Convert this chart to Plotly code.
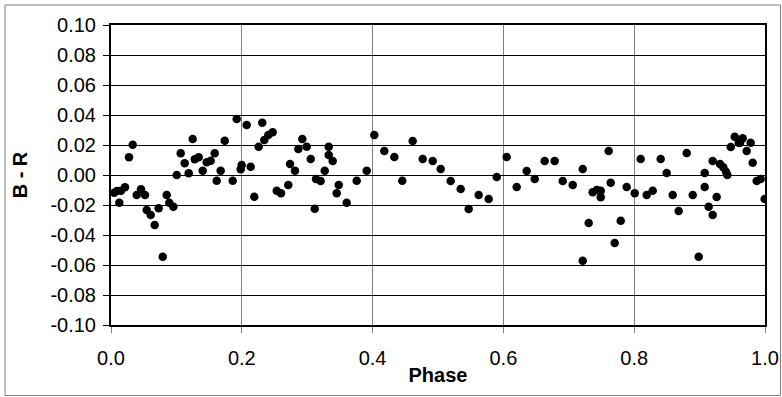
import plotly.graph_objects as go

phase = [0.005, 0.009, 0.0127, 0.0153, 0.0214, 0.0275, 0.0332, 0.0393, 0.0459, 0.052,
         0.0546, 0.0607, 0.0668, 0.0729, 0.0791, 0.0852, 0.0891, 0.0953, 0.1005, 0.1066,
         0.1127, 0.1188, 0.1249, 0.128, 0.1341, 0.1402, 0.1463, 0.1524, 0.1586, 0.1616,
         0.1677, 0.1739, 0.1861, 0.1922, 0.1983, 0.1998, 0.2075, 0.2136, 0.2191, 0.2258,
         0.2313, 0.2344, 0.2405, 0.2472, 0.2534, 0.2599, 0.2711, 0.2737, 0.2813, 0.2864,
         0.2925, 0.2992, 0.3054, 0.3115, 0.3135, 0.3206, 0.3268, 0.3329, 0.3329, 0.339,
         0.3451, 0.3482, 0.3604, 0.3757, 0.391, 0.4026, 0.4179, 0.4332, 0.4454, 0.4613,
         0.4766, 0.4919, 0.5041, 0.5194, 0.5347, 0.5469, 0.5622, 0.5775, 0.5898, 0.605,
         0.6203, 0.6356, 0.6479, 0.6631, 0.6784, 0.6907, 0.706, 0.7213, 0.7213, 0.7304,
         0.7365, 0.7427, 0.7488, 0.7488, 0.761, 0.7641, 0.7702, 0.7794, 0.7885, 0.8008,
         0.8099, 0.8191, 0.8283, 0.8405, 0.8497, 0.8589, 0.868, 0.8803, 0.8895, 0.8986,
         0.9078, 0.9078, 0.9139, 0.92, 0.92, 0.9261, 0.9312, 0.9362, 0.9404, 0.9424,
         0.9476, 0.9537, 0.9598, 0.9618, 0.9659, 0.972, 0.9781, 0.9812, 0.9873, 0.9934,
         0.9995]

b_minus_r = [-0.0118, -0.0107, -0.0185, -0.0105, -0.0082, 0.0118, 0.0202, -0.0133, -0.0095, -0.0133,
             -0.0233, -0.0267, -0.0333, -0.0222, -0.0545, -0.0133, -0.0185, -0.0211, 0.0000, 0.0145,
             0.0078, 0.0011, 0.0240, 0.0105, 0.0118, 0.0029, 0.0085, 0.0095, 0.0145, -0.0038,
             0.0029, 0.0229, -0.0038, 0.0373, 0.0038, 0.0067, 0.0333, 0.0055, -0.0145, 0.0189,
             0.0349, 0.0233, 0.0267, 0.0285, -0.0105, -0.0122, -0.0067, 0.0073, 0.0029, 0.0173,
             0.0240, 0.0189, 0.0107, -0.0225, -0.0027, -0.0040, 0.0029, 0.0189, 0.0133, 0.0093,
             -0.0122, -0.0067, -0.0185, -0.0038, 0.0029, 0.0267, 0.0160, 0.0120, -0.0038, 0.0227,
             0.0107, 0.0093, 0.0040, -0.0040, -0.0093, -0.0227, -0.0133, -0.0160, -0.0013, 0.0120,
             -0.0080, 0.0027, -0.0027, 0.0093, 0.0093, -0.0040, -0.0067, 0.0040, -0.0571, -0.0320,
             -0.0115, -0.0100, -0.0105, -0.0149, 0.0160, -0.0051, -0.0453, -0.0305, -0.0080, -0.0122,
             0.0107, -0.0133, -0.0105, 0.0107, 0.0013, -0.0133, -0.0240, 0.0147, -0.0133, -0.0545,
             0.0013, -0.0080, -0.0211, -0.0267, 0.0093, -0.0147, 0.0073, 0.0051, 0.0022, 0.0000,
             0.0187, 0.0255, 0.0215, 0.0215, 0.0245, 0.0160, 0.0215, 0.0082, -0.0040, -0.0027,
             -0.0160]

x_ticks = [0.0, 0.2, 0.4, 0.6, 0.8, 1.0]
x_tick_labels = ["0.0", "0.2", "0.4", "0.6", "0.8", "1.0"]
y_ticks = [-0.10, -0.08, -0.06, -0.04, -0.02, 0.00, 0.02, 0.04, 0.06, 0.08, 0.10]
y_tick_labels = ["-0.10", "-0.08", "-0.06", "-0.04", "-0.02", "0.00",
                 "0.02", "0.04", "0.06", "0.08", "0.10"]

FONT = "Liberation Sans, Arial, sans-serif"

W, H = 782, 397
L, R, T, B = 111, 17, 25, 72
PW, PH = W - L - R, H - T - B

fig = go.Figure()
fig.add_trace(go.Scatter(
    x=phase, y=b_minus_r, mode="markers",
    marker=dict(color="black", size=8.5, line=dict(width=0)),
    showlegend=False,
))

fig.update_layout(
    width=W, height=H, autosize=False,
    margin=dict(l=L, r=R, t=T, b=B),
    paper_bgcolor="white", plot_bgcolor="white",
    font=dict(family=FONT, size=20, color="black"),
    shapes=[dict(type="rect", xref="paper", yref="paper",
                 x0=-(L - 5) / PW, x1=1 + (R - 1.5) / PW,
                 y0=-(B - 1.5) / PH, y1=1 + (T - 5) / PH,
                 line=dict(color="#808080", width=1), layer="below")],
)

fig.update_xaxes(
    range=[0, 1], tickvals=x_ticks, ticktext=x_tick_labels,
    automargin=False,
    showgrid=True, gridcolor="#808080", gridwidth=1,
    showline=True, linecolor="black", linewidth=2, mirror=True,
    ticks="outside", ticklen=6, tickcolor="#808080", tickwidth=1,
    ticklabelstandoff=8,
    zeroline=False,
    title=dict(text="<b>Phase</b>", font=dict(size=20), standoff=0),
)
fig.update_yaxes(
    range=[-0.10, 0.10], tickvals=y_ticks, ticktext=y_tick_labels,
    automargin=False,
    showgrid=True, gridcolor="black", gridwidth=1,
    showline=True, linecolor="black", linewidth=2, mirror=True,
    ticks="outside", ticklen=6, tickcolor="black", tickwidth=1,
    ticklabelstandoff=3,
    zeroline=False,
    title=dict(text="<b>B - R</b>", font=dict(size=20), standoff=17),
)

fig.write_html(
    "out.html",
    config={"displayModeBar": False},
    post_script="document.body.style.margin='0';",
)
